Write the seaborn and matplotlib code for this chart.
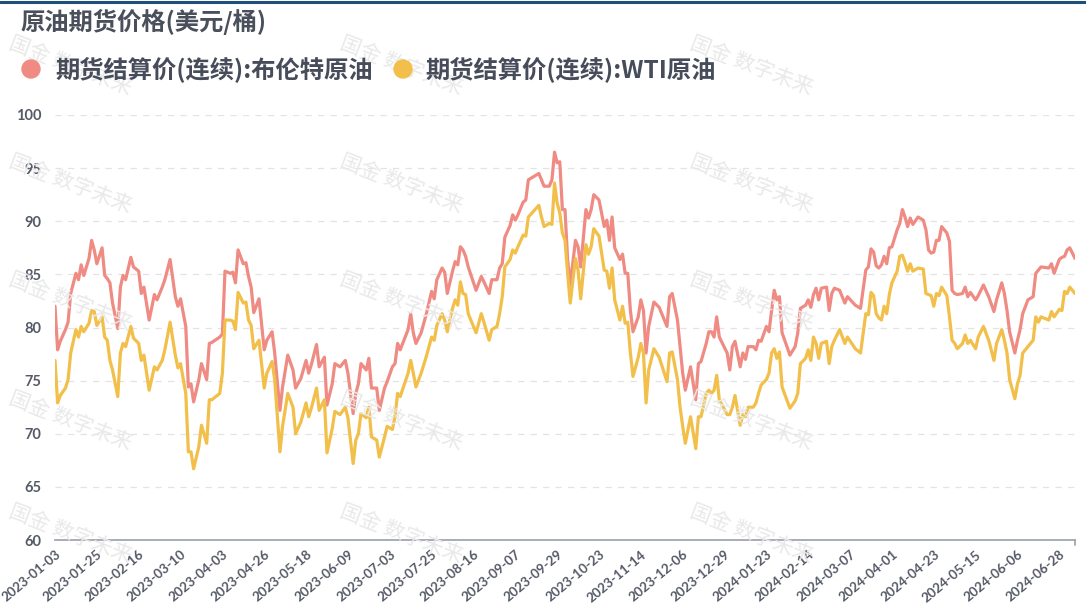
import numpy as np
import pandas as pd
import matplotlib
matplotlib.use("Agg")
import matplotlib.pyplot as plt
import seaborn as sns

# ---------------- data ----------------
title = "原油期货价格(美元/桶)"
series_names = ["期货结算价(连续):布伦特原油", "期货结算价(连续):WTI原油"]
watermark = "国金 数字未来"

holidays = ["2023-04-07", "2023-12-25", "2024-01-01", "2024-03-29"]
first_day = "2023-01-03"
last_day = "2024-07-08"

tick_labels = ["2023-01-03", "2023-01-25", "2023-02-16", "2023-03-10", "2023-04-03",
               "2023-04-26", "2023-05-18", "2023-06-09", "2023-07-03", "2023-07-25",
               "2023-08-16", "2023-09-07", "2023-09-29", "2023-10-23", "2023-11-14",
               "2023-12-06", "2023-12-29", "2024-01-23", "2024-02-14", "2024-03-07",
               "2024-04-01", "2024-04-23", "2024-05-15", "2024-06-06", "2024-06-28"]

# trading-day number (position in the trading calendar) of each sampled reading
sample_day = [0, 1, 2, 4, 5, 6, 8, 9, 10, 11, 13, 14, 15, 16, 18, 19, 20, 21, 22, 24,
              25, 26, 27, 29, 30, 32, 33, 34, 36, 38, 39, 41, 42, 44, 46, 47, 48, 50, 51, 52,
              53, 55, 56, 58, 59, 60, 63, 64, 65, 67, 68, 69, 70, 72, 73, 74, 75, 76, 78, 80,
              81, 83, 84, 86, 87, 89, 91, 92, 94, 96, 97, 98, 100, 101, 103, 104, 106, 107, 109, 111,
              112, 114, 115, 116, 117, 119, 120, 121, 123, 124, 126, 127, 129, 130, 131, 132, 135, 136, 137, 138,
              140, 142, 144, 145, 146, 148, 149, 150, 152, 153, 154, 155, 156, 157, 158, 161, 163, 164, 166, 167,
              169, 170, 171, 172, 174, 175, 176, 177, 179, 180, 181, 185, 186, 187, 189, 190, 191, 192, 193, 194,
              195, 196, 197, 199, 200, 201, 203, 204, 205, 206, 208, 210, 211, 212, 213, 214, 216, 217, 218, 219,
              220, 221, 223, 224, 225, 226, 227, 229, 231, 234, 235, 236, 238, 239, 240, 241, 243, 245, 246, 247,
              249, 250, 251, 252, 253, 254, 257, 258, 259, 260, 262, 263, 264, 265, 267, 268, 269, 270, 272, 273,
              274, 275, 276, 277, 278, 281, 283, 284, 285, 287, 288, 289, 290, 291, 292, 293, 295, 296, 297, 298,
              300, 302, 303, 306, 308, 310, 311, 312, 313, 314, 315, 316, 317, 318, 319, 320, 322, 323, 324, 325,
              326, 327, 328, 330, 332, 333, 334, 335, 336, 337, 338, 339, 341, 342, 343, 344, 345, 347, 348, 349,
              350, 352, 353, 355, 357, 359, 360, 362, 363, 364, 365, 367, 368, 369, 370, 372, 374, 375, 376, 377,
              380, 381, 382, 384, 385, 386, 387, 388, 390]

brent = [82.0, 77.9, 78.7, 79.8, 80.5, 83.2, 85.1, 84.5, 85.9, 84.9, 86.5, 88.2, 87.3, 86.0, 87.5, 84.9, 84.6, 84.2, 82.3, 79.9,
         83.8, 84.9, 84.5, 86.6, 85.7, 85.3, 83.2, 83.8, 80.7, 83.1, 82.6, 83.8, 84.5, 86.4, 82.9, 82.0, 82.7, 80.1, 74.4, 74.7,
         73.0, 75.1, 76.6, 75.1, 78.5, 78.6, 79.1, 79.4, 85.3, 85.1, 85.2, 84.2, 87.3, 86.0, 86.1, 84.8, 83.8, 81.4, 82.7, 77.9,
         78.8, 79.6, 77.6, 72.2, 74.4, 77.4, 76.0, 74.3, 75.2, 76.9, 75.7, 76.5, 78.4, 76.3, 77.2, 72.7, 74.7, 76.6, 76.3, 76.9,
         75.7, 71.9, 73.8, 74.7, 76.6, 76.0, 77.1, 74.3, 74.3, 72.2, 74.3, 74.9, 76.3, 76.6, 78.5, 77.9, 79.8, 81.3, 79.5, 78.5,
         79.5, 81.3, 83.4, 82.7, 84.5, 85.6, 85.2, 83.2, 85.3, 86.2, 85.9, 87.6, 87.3, 86.7, 85.7, 83.5, 84.8, 84.3, 83.2, 84.5,
         84.5, 85.6, 86.0, 88.5, 89.6, 90.6, 90.1, 90.6, 91.8, 92.0, 93.9, 94.5, 93.9, 93.3, 93.3, 93.9, 96.5, 95.5, 95.6, 91.1,
         91.1, 86.4, 84.0, 88.2, 87.6, 85.7, 91.1, 90.3, 91.1, 92.5, 92.0, 89.5, 90.1, 88.2, 90.4, 87.5, 86.4, 86.9, 85.1, 85.1,
         81.6, 79.6, 81.0, 82.6, 81.6, 77.6, 80.1, 82.4, 81.9, 80.1, 82.9, 83.2, 80.7, 78.2, 75.7, 74.1, 76.3, 73.2, 76.6, 76.8,
         78.5, 79.6, 79.6, 79.1, 81.0, 79.1, 77.6, 76.0, 78.2, 78.7, 76.3, 77.6, 77.0, 78.2, 78.2, 77.9, 78.8, 78.7, 80.1, 79.6,
         81.6, 83.5, 82.6, 82.9, 79.5, 77.4, 78.2, 79.5, 81.8, 82.1, 82.6, 81.9, 83.1, 83.7, 82.6, 83.7, 83.8, 81.6, 83.2, 83.7,
         83.5, 82.3, 82.9, 82.1, 81.8, 85.4, 85.7, 87.4, 87.1, 85.8, 85.6, 85.9, 86.7, 86.0, 87.5, 87.6, 89.2, 89.8, 91.1, 90.4,
         89.5, 90.3, 89.7, 90.4, 90.1, 89.2, 87.3, 87.0, 87.1, 88.2, 88.2, 89.5, 88.9, 88.1, 83.5, 83.2, 83.1, 83.2, 83.8, 82.9,
         83.3, 82.6, 83.0, 84.0, 82.9, 81.5, 82.6, 84.2, 83.2, 81.6, 79.6, 77.6, 78.8, 79.8, 81.3, 82.6, 82.9, 85.1, 85.4, 85.7,
         85.6, 86.0, 85.1, 86.4, 86.6, 86.7, 87.3, 87.5, 86.5]

wti = [76.9, 72.9, 73.6, 74.3, 75.1, 77.6, 79.8, 79.1, 80.1, 79.6, 80.4, 81.6, 81.5, 80.2, 81.0, 79.1, 78.8, 76.9, 76.0, 73.5,
       77.6, 78.5, 78.2, 80.1, 79.0, 78.5, 76.9, 77.4, 74.1, 76.3, 76.0, 76.9, 77.9, 80.5, 77.4, 76.2, 76.6, 73.8, 68.3, 68.3,
       66.7, 68.8, 70.8, 69.1, 73.2, 73.2, 73.8, 75.7, 80.7, 80.7, 80.6, 79.8, 83.3, 82.3, 82.4, 80.7, 80.2, 78.0, 78.8, 74.3,
       75.7, 76.8, 75.1, 68.3, 70.7, 73.8, 72.5, 70.0, 71.1, 72.9, 71.6, 72.4, 74.3, 72.2, 73.2, 68.2, 70.5, 72.1, 71.8, 72.5,
       71.5, 67.2, 69.4, 70.0, 71.9, 71.5, 72.5, 69.7, 69.4, 67.8, 69.7, 70.7, 70.4, 71.6, 73.8, 73.5, 75.7, 76.9, 75.7, 74.4,
       75.7, 77.3, 79.1, 78.8, 80.2, 81.3, 80.7, 79.6, 81.8, 82.6, 82.1, 84.3, 83.2, 83.1, 81.3, 79.5, 81.3, 80.5, 78.8, 79.8,
       80.1, 81.3, 82.9, 85.7, 86.4, 87.3, 87.0, 87.6, 88.7, 88.6, 90.4, 91.5, 90.4, 89.5, 89.8, 89.7, 93.6, 91.7, 90.8, 88.9,
       88.2, 85.1, 82.3, 86.5, 85.4, 82.7, 87.8, 86.9, 87.6, 89.3, 88.6, 85.4, 85.3, 83.7, 85.6, 82.6, 80.7, 82.0, 80.4, 80.5,
       77.6, 75.4, 77.2, 78.5, 77.6, 72.9, 76.0, 78.0, 77.2, 74.9, 77.6, 77.7, 75.1, 72.5, 70.7, 69.1, 71.6, 68.6, 71.6, 71.6,
       73.8, 74.1, 73.8, 74.1, 75.5, 73.2, 71.8, 71.8, 72.5, 73.6, 70.8, 71.8, 71.6, 72.5, 72.5, 72.9, 73.8, 74.6, 75.1, 75.7,
       77.6, 78.0, 77.1, 77.7, 74.4, 72.4, 73.1, 73.8, 76.6, 77.1, 77.9, 76.9, 79.1, 78.5, 77.1, 78.5, 78.7, 76.6, 78.2, 78.8,
       79.8, 78.5, 79.1, 78.0, 77.6, 81.3, 81.2, 83.3, 83.0, 81.3, 80.9, 80.7, 82.0, 81.3, 83.1, 84.2, 85.3, 86.7, 86.8, 86.1,
       85.3, 86.0, 85.3, 85.6, 85.5, 83.2, 83.1, 83.0, 82.0, 83.2, 83.0, 83.8, 83.0, 81.0, 78.8, 78.5, 78.0, 78.5, 79.3, 78.5,
       78.8, 78.0, 79.1, 80.1, 78.8, 76.9, 78.5, 79.8, 78.8, 77.6, 75.1, 73.3, 74.7, 75.5, 77.6, 78.2, 78.8, 81.0, 80.5, 81.0,
       80.7, 81.5, 81.0, 81.7, 81.6, 83.4, 83.2, 83.8, 83.2]

y_ticks = [60, 65, 70, 75, 80, 85, 90, 95, 100]

# ---------------- build ----------------
all_days = pd.bdate_range(first_day, last_day)
trade_dates = [d.strftime("%Y-%m-%d") for d in all_days if d.strftime("%Y-%m-%d") not in holidays]

df = pd.DataFrame({
    "day": sample_day * 2,
    "price": brent + wti,
    "series": [series_names[0]] * len(brent) + [series_names[1]] * len(wti),
})

colors = ["#EF8B83", "#F1BF4A"]
text_color = "#464C5A"
W, H = 1086, 609

sns.set_theme(style="white")
plt.rcParams["font.family"] = ["Noto Sans CJK SC", "DejaVu Sans"]

fig = plt.figure(figsize=(W / 100, H / 100), dpi=100)

# faint watermark layer (behind everything), kept fully inside the canvas
for cx in [14, 345, 695]:
    for ry in [32, 150, 268, 387, 500]:
        fig.text(cx / W, 1 - ry / H, watermark, fontsize=15, color="#E9E9E9",
                 rotation=-21, rotation_mode="anchor", ha="left", va="top", zorder=0)

ax = fig.add_axes([55 / W, 1 - 540 / H, (1075 - 55) / W, (540 - 115) / H])
ax.patch.set_alpha(0)

sns.lineplot(data=df, x="day", y="price", hue="series", palette=colors, ax=ax,
             linewidth=2.3, legend=False, sort=True)

ax.set_xlim(0, len(trade_dates) - 1)
ax.set_ylim(60, 100)
ax.set_yticks(y_ticks)
ax.set_yticklabels([str(v) for v in y_ticks], fontsize=10.5, color="#555a66",
                   fontweight="bold", family=["Lato", "DejaVu Sans"])
tick_pos = [trade_dates.index(t) for t in tick_labels]
ax.set_xticks(tick_pos)
ax.set_xticklabels(tick_labels, rotation=40, ha="right", rotation_mode="anchor",
                   fontsize=9.6, color="#555a66", fontweight="bold",
                   family=["Lato", "DejaVu Sans"])
ax.tick_params(axis="x", length=0, pad=6)
ax.tick_params(axis="y", length=0, pad=10)
ax.set_xlabel("")
ax.set_ylabel("")

for v in y_ticks[1:]:
    ax.axhline(v, color="#E3E3E3", lw=0.9, ls=(0, (5, 5)), zorder=0)
for s in ["top", "right", "left"]:
    ax.spines[s].set_visible(False)
ax.spines["bottom"].set_color("#9A9EA8")
ax.spines["bottom"].set_linewidth(1.2)
ax.plot([1, 1], [0, -0.012], transform=ax.transAxes, color="#9A9EA8", lw=1.2, clip_on=False)

# top rule
fig.add_artist(plt.Line2D([0, 1], [1 - 2 / H, 1 - 2 / H], color="#1F4E79", lw=2.2))

# title
fig.text(20 / W, 1 - 22 / H, title, fontsize=17.5, fontweight="bold", color="#4A4F5C",
         va="center", ha="left")

# legend
leg_y = 1 - 69 / H
for cx, tx, name, col in [(31, 55, series_names[0], colors[0]), (403, 425, series_names[1], colors[1])]:
    fig.add_artist(matplotlib.patches.Ellipse((cx / W, leg_y), 18 / W, 18 / H,
                                              color=col, transform=fig.transFigure))
    fig.text(tx / W, leg_y, name, fontsize=17.5, fontweight="bold", color=text_color,
             va="center", ha="left")

fig.savefig("out.png", dpi=100)
